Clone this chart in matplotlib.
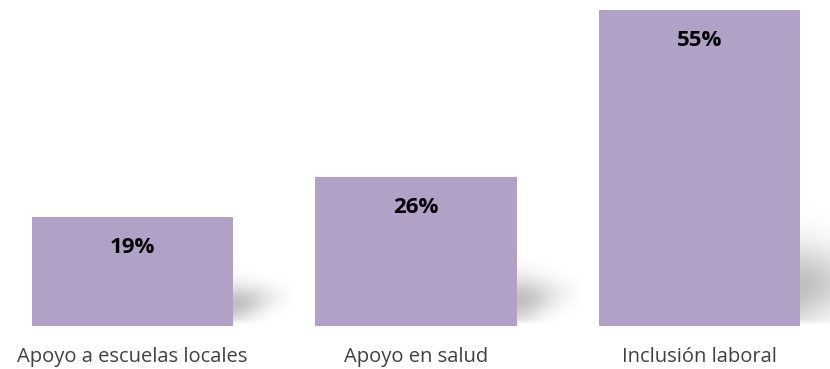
import numpy as np
import matplotlib
matplotlib.use('Agg')
import matplotlib.pyplot as plt

categories = ['Apoyo a escuelas locales', 'Apoyo en salud', 'Inclusión laboral']
values = [19, 26, 55]
value_labels = ['19%', '26%', '55%']

BAR_COLOR = '#B2A1C7'
FIG_W, FIG_H, DPI = 830, 369, 100

fig = plt.figure(figsize=(FIG_W / DPI, FIG_H / DPI), dpi=DPI)
ax = fig.add_axes([0, 43 / FIG_H, 1, 316 / FIG_H])

x = np.arange(len(categories))
bar_w = 0.709
XLIM = (-0.467, 2.460)
YLIM = (0, max(values))

# pixel scale of the data axes
px_x = FIG_W / (XLIM[1] - XLIM[0])
px_y = 316 / (YLIM[1] - YLIM[0])


def soft_shadow(ax, x_right, h_val):
    # blurred perspective shadow to the right of a bar's foot
    h = h_val * px_y
    vc = 0.09 * h + 12
    half = 0.11 * h + 8
    width = 0.12 * h + 45
    top = vc + 2.5 * half + 10
    nu, nv = 120, 160
    u = np.linspace(0, 1, nu)
    v = np.linspace(0, top, nv)
    U, V = np.meshgrid(u, v)
    center = vc + 9 * U
    spread = half * (1 - 0.4 * U)
    d = (V - center) / spread
    alpha = 0.25 * np.exp(-1.1 * d ** 2) * np.exp(-(U / 0.6) ** 2)
    alpha *= np.clip(V / 6, 0, 1)
    img = np.zeros((nv, nu, 4))
    img[..., 3] = alpha
    ax.imshow(img, origin='lower', aspect='auto', interpolation='bilinear',
              extent=(x_right, x_right + width / px_x, 0, top / px_y), zorder=1)


for xi, val in zip(x, values):
    soft_shadow(ax, xi + bar_w / 2, val)

ax.bar(x, values, width=bar_w, color=BAR_COLOR, zorder=2)
ax.set_xlim(*XLIM)
ax.set_ylim(*YLIM)

for xi, val, lab in zip(x, values, value_labels):
    ax.annotate(lab, (xi, val), xytext=(0, -31), textcoords='offset pixels',
                ha='center', va='center', fontsize=16, fontweight='bold',
                family='Open Sans', color='black', zorder=3)

for xi, cat in zip(x, categories):
    ax.annotate(cat, (xi, 0), xytext=(0, -36), textcoords='offset pixels',
                ha='center', va='baseline', fontsize=14.5, family='Open Sans',
                color='#404040', annotation_clip=False)

ax.axis('off')
fig.savefig('out.png', dpi=DPI)
